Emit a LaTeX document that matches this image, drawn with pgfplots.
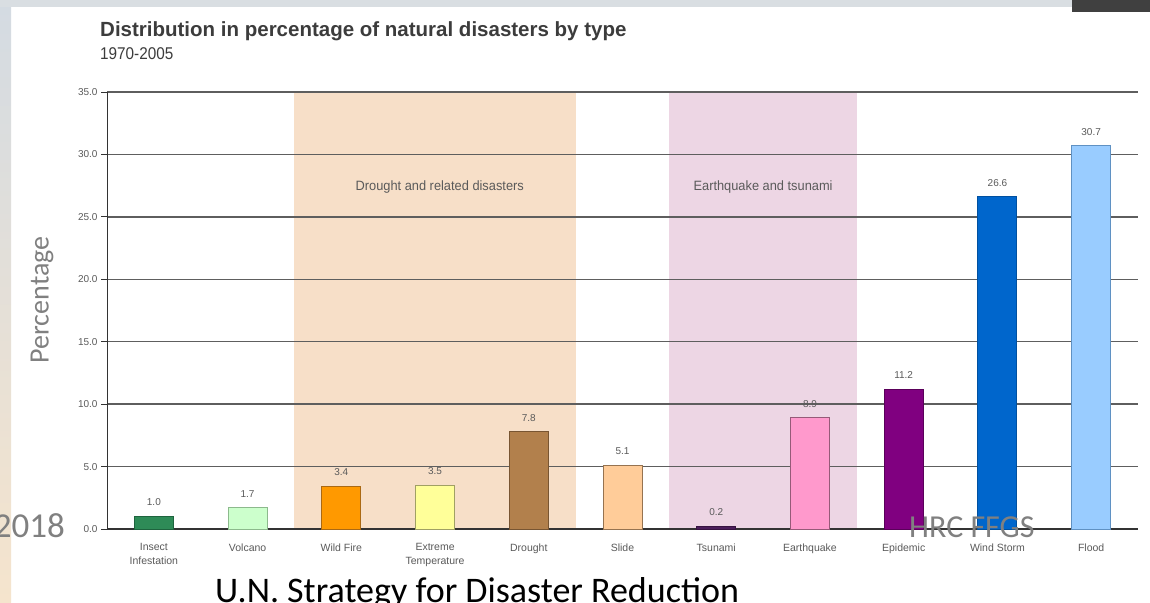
\documentclass[border=0pt]{standalone}
\usepackage{pgfplots}
\pgfplotsset{compat=1.18}
\usepackage{fontspec}
\setmainfont{Liberation Sans}
\newfontfamily\carlito{Carlito}
\definecolor{bandA}{HTML}{F7DFC8}
\definecolor{bandB}{HTML}{EDD6E4}
\definecolor{gridc}{HTML}{5E5E5E}
\definecolor{txtc}{HTML}{5A5A5A}
\definecolor{titc}{HTML}{3C3C3C}
\definecolor{slgray}{HTML}{808080}
\definecolor{stripTop}{HTML}{D4DBE2}
\definecolor{stripBot}{HTML}{F5E4CD}
\definecolor{topbar}{HTML}{D9DEE2}
\definecolor{cA}{HTML}{2E8B57}\definecolor{dA}{HTML}{1E643E}
\definecolor{cB}{HTML}{CCFFCC}\definecolor{dB}{HTML}{8CB98C}
\definecolor{cC}{HTML}{FF9900}\definecolor{dC}{HTML}{AA6914}
\definecolor{cD}{HTML}{FFFF99}\definecolor{dD}{HTML}{A0A064}
\definecolor{cE}{HTML}{B2804C}\definecolor{dE}{HTML}{785532}
\definecolor{cF}{HTML}{FFCC99}\definecolor{dF}{HTML}{967350}
\definecolor{cG}{HTML}{4B1E5A}\definecolor{dG}{HTML}{371441}
\definecolor{cH}{HTML}{FF99CC}\definecolor{dH}{HTML}{965A78}
\definecolor{cI}{HTML}{800080}\definecolor{dI}{HTML}{5A005A}
\definecolor{cJ}{HTML}{0066CC}\definecolor{dJ}{HTML}{0050A0}
\definecolor{cK}{HTML}{99CCFF}\definecolor{dK}{HTML}{5F91C3}
\pgfplotsset{frame/.style={
  at={(107pt,73pt)}, anchor=south west,
  scale only axis, width=1031pt, height=437pt,
  xmin=-0.5, xmax=10.5, ymin=0, ymax=35}}
\begin{document}
\begin{tikzpicture}[x=1pt,y=1pt]
% slide background
\fill[white] (0,0) rectangle (1150,602);
\shade[top color=stripTop, bottom color=stripBot] (0,0) rectangle (11,596);
\fill[topbar] (0,595) rectangle (1150,602);
\fill[black!75] (1072,590) rectangle (1150,602);
% titles
\node[anchor=base west, inner sep=0pt, text=titc] at (100,565)
  {\fontsize{20.5}{22}\selectfont\bfseries Distribution in percentage of natural disasters by type};
\node[anchor=base west, inner sep=0pt, text=titc] at (100,542)
  {\scalebox{0.9}[1]{\fontsize{17}{20}\selectfont 1970-2005}};
% shaded bands (behind the grid)
\begin{axis}[frame, hide axis]
\fill[bandA] (axis cs:1.5,0) rectangle (axis cs:4.5,35);
\fill[bandB] (axis cs:5.5,0) rectangle (axis cs:7.5,35);
\end{axis}
\begin{axis}[
  frame,
  axis x line*=bottom, axis y line*=left,
  axis line style={-, line width=1pt, draw=black!80},
  tick align=outside,
  ytick={0,5,...,35},
  major tick length=6pt,
  ymajorgrids,
  major grid style={draw=gridc, line width=1.4pt},
  yticklabel style={font=\fontsize{10}{11}\selectfont, text=txtc,
    /pgf/number format/.cd, fixed, fixed zerofill, precision=1, assume math mode=true},
  ytick style={draw=black!80, line width=0.8pt},
  xtick={0,...,10},
  xticklabels={{Insect\\Infestation},Volcano,Wild Fire,{Extreme\\Temperature},Drought,Slide,Tsunami,Earthquake,Epidemic,Wind Storm,Flood},
  xticklabel style={font=\fontsize{10.5}{13.5}\selectfont, text=txtc, align=center, yshift=-5pt},
  xtick style={draw=none},
  extra x ticks={0.5,1.5,...,9.5},
  extra x tick labels={},
  extra x tick style={grid=none, tick style={draw=black!80, line width=0.8pt}},
  clip=false,
  nodes near coords,
  nodes near coords style={font=\fontsize{10}{11}\selectfont, text=txtc, anchor=south, inner sep=0pt, yshift=10pt,
    /pgf/number format/.cd, fixed, fixed zerofill, precision=1, assume math mode=true},
  mybar/.style={ybar, bar width=39pt, bar shift=0pt, line width=0.9pt},
]
\node[font=\fontsize{13.5}{14}\selectfont, text=txtc] at (axis cs:3.05,27.4) {\scalebox{0.95}[1]{Drought and related disasters}};
\node[font=\fontsize{13.5}{14}\selectfont, text=txtc] at (axis cs:6.5,27.4) {\scalebox{0.95}[1]{Earthquake and tsunami}};
\addplot[mybar, fill=cA, draw=dA] coordinates {(0,1.0)};
\addplot[mybar, fill=cB, draw=dB] coordinates {(1,1.7)};
\addplot[mybar, fill=cC, draw=dC] coordinates {(2,3.4)};
\addplot[mybar, fill=cD, draw=dD] coordinates {(3,3.5)};
\addplot[mybar, fill=cE, draw=dE] coordinates {(4,7.8)};
\addplot[mybar, fill=cF, draw=dF] coordinates {(5,5.1)};
\addplot[mybar, fill=cG, draw=dG] coordinates {(6,0.2)};
\addplot[mybar, fill=cH, draw=dH] coordinates {(7,8.9)};
\addplot[mybar, fill=cI, draw=dI] coordinates {(8,11.2)};
\addplot[mybar, fill=cJ, draw=dJ] coordinates {(9,26.6)};
\addplot[mybar, fill=cK, draw=dK] coordinates {(10,30.7)};
\end{axis}
% slide texts
\node[rotate=90, text=slgray, inner sep=0pt] at (42,302)
  {\carlito\fontsize{28}{30}\selectfont Percentage};
\node[anchor=base east, inner sep=0pt, text=slgray] at (65,64)
  {\carlito\fontsize{35}{38}\selectfont 2018};
\node[anchor=base west, inner sep=0pt, text=slgray] at (909,64)
  {\carlito\fontsize{32}{34}\selectfont HRC FFGS};
\node[anchor=base west, inner sep=0pt, text=black] at (215,0)
  {\carlito\fontsize{36}{38}\selectfont U.N. Strategy for Disaster Reduction};
\pgfresetboundingbox
\path[use as bounding box] (0,0) rectangle (1150,602);
\end{tikzpicture}
\end{document}
